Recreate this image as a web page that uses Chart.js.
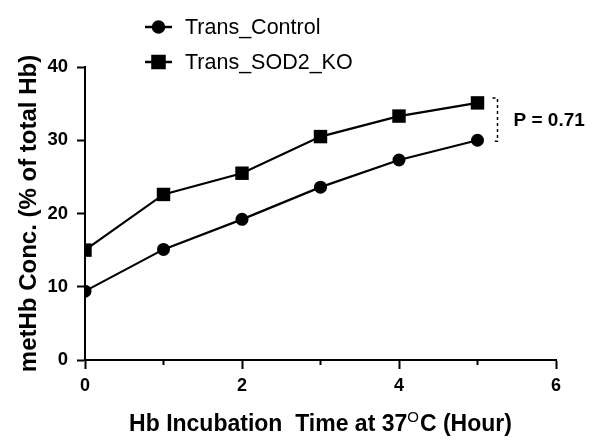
<!DOCTYPE html>
<html>
<head>
<meta charset="utf-8">
<script src="https://cdn.jsdelivr.net/npm/chart.js@4.4.1/dist/chart.umd.min.js"></script>
<style>
  html, body { margin: 0; padding: 0; background: #fff; }
  #wrap { width: 600px; height: 445px; position: relative; }
</style>
</head>
<body>
<div id="wrap"><canvas id="mainChart"></canvas></div>
<script>
// data
var hours = [0, 1, 2, 3, 4, 5];
var controlValues = [9.4, 15.1, 19.2, 23.6, 27.3, 30.0];
var sod2Values = [15.0, 22.6, 25.5, 30.5, 33.3, 35.1];
var seriesNames = ["Trans_Control", "Trans_SOD2_KO"];
var pValueText = "P = 0.71";
var xTitleParts = ["Hb Incubation  Time at 37", "O", "C (Hour)"];

var fontFam = "'Liberation Sans', Arial, Helvetica, sans-serif";

function toPoints(vals) {
  return hours.map(function (h, i) { return { x: h, y: vals[i] }; });
}

// minor ticks on x, custom legend, x title with superscript, P-value bracket
var extras = {
  id: "extras",
  afterDraw: function (chart) {
    var ctx = chart.ctx;
    var xs = chart.scales.x, ys = chart.scales.y;
    ctx.save();
    // minor x ticks
    ctx.strokeStyle = "#000";
    ctx.lineWidth = 2;
    [1, 3, 5].forEach(function (v) {
      var px = xs.getPixelForValue(v);
      ctx.beginPath();
      ctx.moveTo(px, xs.top);
      ctx.lineTo(px, xs.top + 5);
      ctx.stroke();
    });

    // legend
    chart.data.datasets.forEach(function (ds, i) {
      var ly = 27 + i * 35;
      ctx.strokeStyle = "#000";
      ctx.lineWidth = 2.5;
      ctx.beginPath();
      ctx.moveTo(145, ly);
      ctx.lineTo(172, ly);
      ctx.stroke();
      ctx.fillStyle = "#000";
      Chart.helpers.drawPoint(ctx, {
        pointStyle: ds.pointStyle,
        radius: ds.pointStyle === "rect" ? 8.5 : 5.5,
        rotation: 0,
        borderWidth: 1
      }, 158.5, ly);
      ctx.font = "21.5px " + fontFam;
      ctx.textAlign = "left";
      ctx.textBaseline = "middle";
      ctx.fillText(ds.label, 185, ly + 1);
    });

    // x axis title, superscript O
    var bigFont = "bold 23px " + fontFam;
    var supFont = "15px " + fontFam;
    ctx.font = bigFont;
    var w0 = ctx.measureText(xTitleParts[0]).width;
    var w2 = ctx.measureText(xTitleParts[2]).width;
    ctx.font = supFont;
    var w1 = ctx.measureText(xTitleParts[1]).width + 1;
    var tx = (chart.chartArea.left + chart.chartArea.right) / 2 - (w0 + w1 + w2) / 2;
    var ty = 431;
    ctx.textAlign = "left";
    ctx.textBaseline = "alphabetic";
    ctx.font = bigFont;
    ctx.fillText(xTitleParts[0], tx, ty);
    ctx.font = supFont;
    ctx.fillText(xTitleParts[1], tx + w0, ty - 9);
    ctx.font = bigFont;
    ctx.fillText(xTitleParts[2], tx + w0 + w1, ty);

    // bracket between the last points
    var last = hours.length - 1;
    var bx = xs.getPixelForValue(hours[last]) + 20;
    var yTop = ys.getPixelForValue(sod2Values[last]) - 5;
    var yBot = ys.getPixelForValue(controlValues[last]) + 1;
    ctx.setLineDash([3, 3]);
    ctx.lineWidth = 1.5;
    ctx.beginPath();
    ctx.moveTo(bx - 5, yTop);
    ctx.lineTo(bx, yTop);
    ctx.lineTo(bx, yBot);
    ctx.lineTo(bx - 5, yBot);
    ctx.stroke();
    ctx.setLineDash([]);
    ctx.font = "bold 19px " + fontFam;
    ctx.textBaseline = "middle";
    ctx.fillText(pValueText, bx + 16, (yTop + yBot) / 2 + 1);
    ctx.restore();
  }
};

var ctx = document.getElementById("mainChart").getContext("2d");
var chart = new Chart(ctx, {
  type: "line",
  data: {
    datasets: [
      {
        label: seriesNames[0],
        data: toPoints(controlValues),
        borderColor: "#000",
        backgroundColor: "#000",
        borderWidth: 2.2,
        pointStyle: "circle",
        pointRadius: 6.5,
        pointBorderWidth: 0,
        tension: 0
      },
      {
        label: seriesNames[1],
        data: toPoints(sod2Values),
        borderColor: "#000",
        backgroundColor: "#000",
        borderWidth: 2.2,
        pointStyle: "rect",
        pointRadius: 9.5,
        pointBorderWidth: 0,
        tension: 0
      }
    ]
  },
  options: {
    responsive: true,
    maintainAspectRatio: false,
    animation: false,
    layout: { padding: { top: 67, right: 44, left: 0, bottom: 0 } },
    plugins: {
      legend: { display: false },
      tooltip: { enabled: false }
    },
    scales: {
      x: {
        type: "linear",
        min: 0,
        max: 6,
        afterFit: function (s) { s.height = 85; },
        ticks: {
          stepSize: 1,
          color: "#000",
          font: { family: fontFam, size: 18, weight: "bold" },
          padding: 6,
          maxRotation: 0,
          callback: function (v) { return v % 2 === 0 ? v : ""; }
        },
        grid: {
          drawOnChartArea: false,
          tickLength: 9,
          tickWidth: 2,
          tickColor: function (c) {
            return c.tick && c.tick.value % 2 === 0 ? "#000" : "rgba(0,0,0,0)";
          }
        },
        border: { color: "#000", width: 2 },
        title: { display: false }
      },
      y: {
        min: 0,
        max: 40,
        afterFit: function (s) { s.width = 85; },
        ticks: {
          stepSize: 10,
          color: "#000",
          font: { family: fontFam, size: 18.5, weight: "bold" },
          padding: 9
        },
        grid: {
          drawOnChartArea: false,
          tickLength: 8,
          tickWidth: 2,
          tickColor: "#000"
        },
        border: { color: "#000", width: 2 },
        title: {
          display: true,
          text: "metHb Conc. (% of total Hb)",
          color: "#000",
          font: { family: fontFam, size: 24, weight: "bold" },
          padding: { top: 15, bottom: 0 }
        }
      }
    }
  },
  plugins: [extras]
});
</script>
</body>
</html>
